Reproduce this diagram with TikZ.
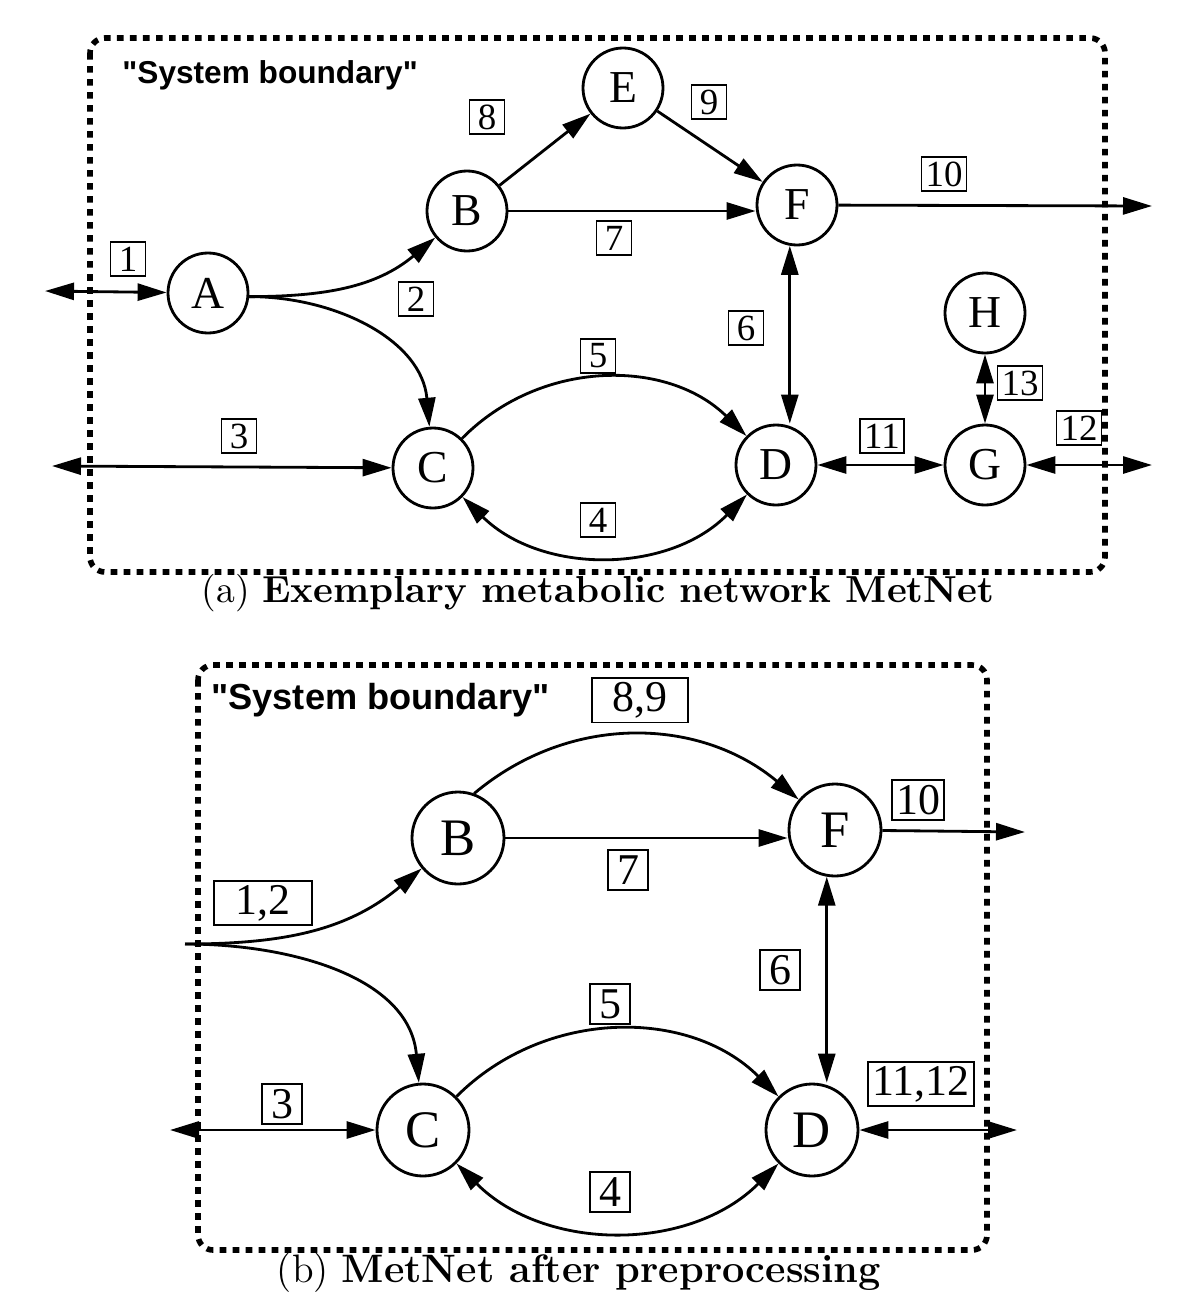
\documentclass[tikz,border=0pt]{standalone}
\usepackage{fontspec}
\usetikzlibrary{arrows.meta}
\newfontfamily\timesfont{Liberation Serif}
\newfontfamily\helvfont{Liberation Sans}

\begin{document}
\begin{tikzpicture}[
                    >={Triangle[length=2.9mm,width=1.7mm]},
                    metab/.style={
                        circle,
                        draw,
                        line width=0.8pt,
                        minimum size=0.8cm,
                        inner sep=0pt,
                        font=\timesfont\fontsize{13}{13}\selectfont
                    },
                    bigmetab/.style={metab, minimum size=0.92cm, font=\timesfont\fontsize{15}{15}\selectfont},
                    rxn/.style={
                        rectangle,
                        draw,
                        line width=0.4pt,
                        inner sep=1.2pt,
                        minimum height=0.34cm,
                        minimum width=0.35cm,
                        font=\timesfont\fontsize{10.5}{10.5}\selectfont
                    },
                    bigrxn/.style={rxn, minimum height=0.4cm, minimum width=0.4cm, font=\timesfont\fontsize{12.5}{12.5}\selectfont},
                    flux/.style={->, line width=0.8pt},
                    rev/.style={<->, line width=0.8pt},
                    boundary/.style={line width=1.6pt, dash pattern=on 1.9pt off 1.8pt, rounded corners=0.15cm},
                    sysname/.style={anchor=west, font=\helvfont\bfseries\fontsize{9}{9}\selectfont}
                ]
                    \useasboundingbox (0,0) rectangle (12,-13.1);

                    % (a) MetNet
                    \draw[boundary] (0.9,-0.38) rectangle (11.05,-5.72);
                    \node[sysname] (sysA) at (1.10,-0.75) {"System boundary"};

                    \node[metab] (A) at (2.08,-2.93) {A};
                    \node[metab] (B) at (4.67,-2.11) {B};
                    \node[metab] (E) at (6.23,-0.88) {E};
                    \node[metab] (F) at (7.97,-2.05) {F};
                    \node[metab] (C) at (4.33,-4.68) {C};
                    \node[metab] (D) at (7.76,-4.65) {D};
                    \node[metab] (H) at (9.85,-3.13) {H};
                    \node[metab] (G) at (9.85,-4.65) {G};
                    \coordinate (inA) at (0.45,-2.91);
                    \coordinate (inC) at (0.52,-4.66);
                    \coordinate (outF) at (11.52,-2.06);
                    \coordinate (outG) at (11.52,-4.65);

                    \node[rxn] (r1) at (1.28,-2.59) {1};
                    \node[rxn] (r2) at (4.16,-2.99) {2};
                    \node[rxn] (r3) at (2.39,-4.36) {3};
                    \node[rxn] (r4) at (5.98,-5.20) {4};
                    \node[rxn] (r5) at (5.98,-3.56) {5};
                    \node[rxn] (r6) at (7.46,-3.28) {6};
                    \node[rxn] (r7) at (6.14,-2.38) {7};
                    \node[rxn] (r8) at (4.87,-1.17) {8};
                    \node[rxn] (r9) at (7.09,-1.02) {9};
                    \node[rxn] (r10) at (9.44,-1.74) {10};
                    \node[rxn] (r11) at (8.82,-4.36) {11};
                    \node[rxn] (r12) at (10.79,-4.28) {12};
                    \node[rxn] (r13) at (10.20,-3.83) {13};

                    % Edges
                    \draw[rev] (inA) -- (A);
                    \draw[flux] (A.-5) to[out=0,in=220] (B);
                    \draw[flux] (A.-5) to[out=0,in=95] (C);
                    \draw[rev] (inC) -- (C);
                    \draw[flux] (C) to[bend left=45] (D);
                    \draw[rev] (C) to[bend right=45] (D);
                    \draw[rev] (F.260) -- (F.260 |- D.north);
                    \draw[flux] (B.east) -- (F.west |- B.east);
                    \draw[flux] (B) -- (E);
                    \draw[flux] (E) -- (F);
                    \draw[flux] (F) -- (outF);
                    \draw[rev] (D) -- (G);
                    \draw[rev] (G) -- (outG);
                    \draw[rev] (H) -- (G);

                    \node (capA) at (5.98,-5.93) {\fontsize{10.7}{12}\selectfont(a) \textbf{Exemplary metabolic network MetNet}};

                    % (b) after preprocessing
                    \draw[boundary] (1.98,-6.65) rectangle (9.87,-12.50);
                    \node[sysname, font=\helvfont\bfseries\fontsize{10.3}{10.3}\selectfont] (sysB) at (1.99,-7.00) {"System boundary"};

                    \node[bigmetab] (B2) at (4.58,-8.38) {B};
                    \node[bigmetab] (F2) at (8.35,-8.30) {F};
                    \node[bigmetab] (C2) at (4.23,-11.30) {C};
                    \node[bigmetab] (D2) at (8.12,-11.30) {D};
                    \coordinate (split) at (1.85,-9.44);
                    \coordinate (inC2) at (1.70,-11.30);
                    \coordinate (outF2) at (10.25,-8.32);
                    \coordinate (outD2) at (10.17,-11.30);

                    \node[bigrxn, minimum width=0.96cm] (r89) at (6.40,-7.00) {8,9};
                    \node[bigrxn] (r10b) at (9.18,-8.00) {10};
                    \node[bigrxn] (r7b) at (6.28,-8.70) {7};
                    \node[bigrxn, minimum width=0.98cm] (r12b) at (2.63,-9.03) {1,2};
                    \node[bigrxn] (r6b) at (7.80,-9.70) {6};
                    \node[bigrxn] (r5b) at (6.10,-10.04) {5};
                    \node[bigrxn] (r3b) at (2.82,-11.04) {3};
                    \node[bigrxn] (r1112) at (9.21,-10.84) {11,12};
                    \node[bigrxn] (r4b) at (6.10,-11.92) {4};

                    % Edges
                    \draw[flux] (B2.70) to[out=40,in=140] (F2);
                    \draw[flux] (B2.east) -- (F2.west |- B2.east);
                    \draw[flux] (split) to[out=0,in=220] (B2);
                    \draw[flux] (split) to[out=0,in=95] (C2);
                    \draw[flux] (C2) to[bend left=45] (D2);
                    \draw[rev] (C2) to[bend right=45] (D2);
                    \draw[rev] (F2.260) -- (F2.260 |- D2.north);
                    \draw[flux] (F2) -- (outF2);
                    \draw[rev] (inC2) -- (C2);
                    \draw[rev] (D2) -- (outD2);

                    \node (capB) at (5.79,-12.73) {\fontsize{11.3}{13}\selectfont(b) \textbf{MetNet after preprocessing}};
                \end{tikzpicture}
\end{document}
